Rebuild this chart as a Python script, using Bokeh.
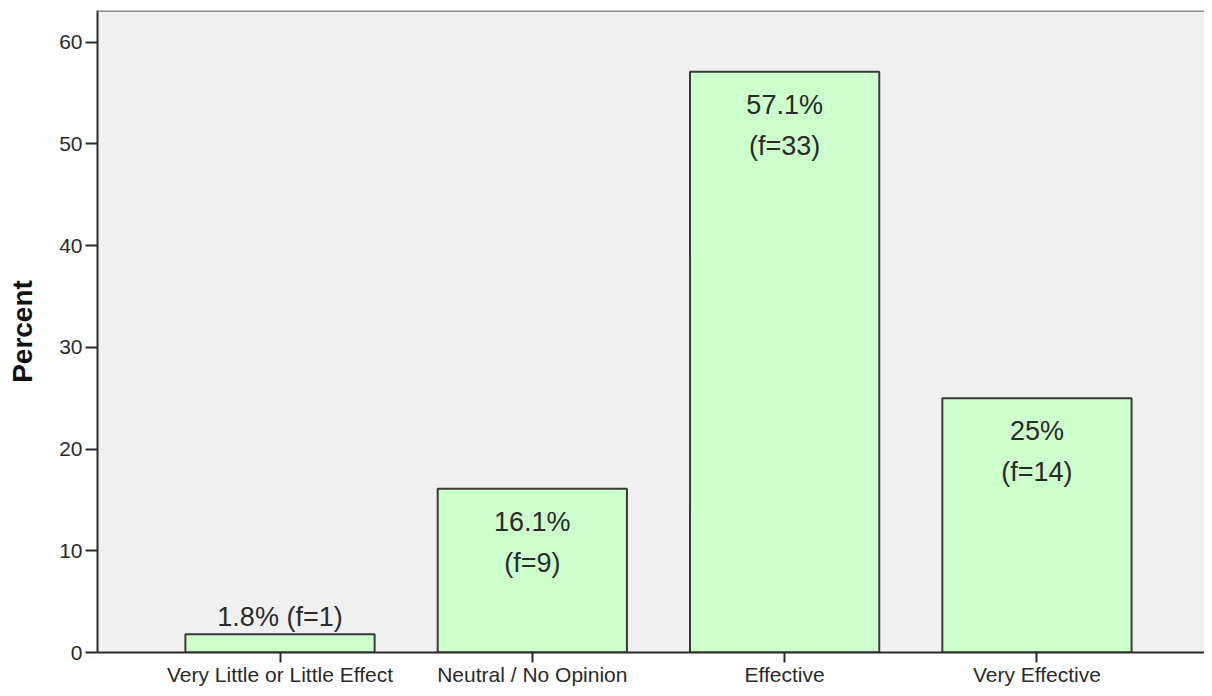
from bokeh.plotting import figure
from bokeh.models import FixedTicker, Span, ColumnDataSource, Range1d
from bokeh.core.properties import value
from bokeh.embed import file_html
from bokeh.resources import INLINE

# ---- data ----
categories = ["Very Little or Little Effect", "Neutral / No Opinion", "Effective", "Very Effective"]
percents = [1.8, 16.1, 57.1, 25.0]
freqs = [1, 9, 33, 14]
label_inside = [False, True, True, True]
y_ticks = [0, 10, 20, 30, 40, 50, 60]

positions = list(range(1, len(categories) + 1))
pct_text = [f"{v:g}%" for v in percents]
freq_text = [f"(f={f})" for f in freqs]

Y_END = 63.12
FONT = "Liberation Sans"

p = figure(width=1204, height=688, output_backend="svg", toolbar_location=None,
           x_range=Range1d(0.2767, 4.664), y_range=Range1d(0, Y_END),
           min_border_left=97, min_border_right=0, min_border_top=10, min_border_bottom=0)

p.background_fill_color = "#f0f0f0"
p.border_fill_color = "white"
p.outline_line_color = None
p.xgrid.visible = False
p.ygrid.visible = False

src = ColumnDataSource(dict(x=positions, top=percents, pct=pct_text, freq=freq_text))
p.vbar(x="x", top="top", width=0.75, bottom=0, source=src,
       fill_color="#ccffcc", line_color="#3a3a3a", line_width=2)

ins = [i for i, f in enumerate(label_inside) if f]
outs = [i for i, f in enumerate(label_inside) if not f]
src_in = ColumnDataSource(dict(x=[positions[i] for i in ins], y=[percents[i] for i in ins],
                               pct=[pct_text[i] for i in ins], freq=[freq_text[i] for i in ins]))
src_out = ColumnDataSource(dict(x=[positions[i] for i in outs], y=[percents[i] for i in outs],
                                txt=[pct_text[i] + " " + freq_text[i] for i in outs]))

common = dict(text_font=value(FONT), text_font_size="27px", text_color="#2a2a2a",
              text_align="center", text_baseline="middle")
p.text(x="x", y="y", text="pct", source=src_in, y_offset=33, **common)
p.text(x="x", y="y", text="freq", source=src_in, y_offset=74, **common)
p.text(x="x", y="y", text="txt", source=src_out, y_offset=-17, **common)

p.add_layout(Span(location=Y_END, dimension="width", line_color="#8a8a8a", line_width=3))

# axes
xa = p.xaxis[0]
xa.ticker = FixedTicker(ticks=positions)
xa.major_label_overrides = {pos: c for pos, c in zip(positions, categories)}
xa.major_label_text_font = FONT
xa.major_label_text_font_size = "21px"
xa.major_label_text_color = "#2a2a2a"
xa.major_tick_out = 10
xa.major_tick_in = 0
xa.minor_tick_line_color = None
xa.major_label_standoff = 0
xa.axis_line_color = "#2b2b2b"
xa.axis_line_width = 2
xa.major_tick_line_color = "#2b2b2b"
xa.major_tick_line_width = 2

ya = p.yaxis[0]
ya.ticker = FixedTicker(ticks=y_ticks)
ya.axis_label = "Percent"
ya.axis_label_text_font = FONT
ya.axis_label_text_font_style = "bold"
ya.axis_label_text_font_size = "28px"
ya.axis_label_text_color = "#111111"
ya.axis_label_standoff = 18
ya.major_label_text_font = FONT
ya.major_label_text_font_size = "21px"
ya.major_label_text_color = "#2a2a2a"
ya.major_tick_out = 12
ya.major_tick_in = 0
ya.minor_tick_line_color = None
ya.major_label_standoff = 3
ya.axis_line_color = "#2b2b2b"
ya.axis_line_width = 2
ya.major_tick_line_color = "#2b2b2b"
ya.major_tick_line_width = 2

open("out.html", "w").write(file_html(p, INLINE))
